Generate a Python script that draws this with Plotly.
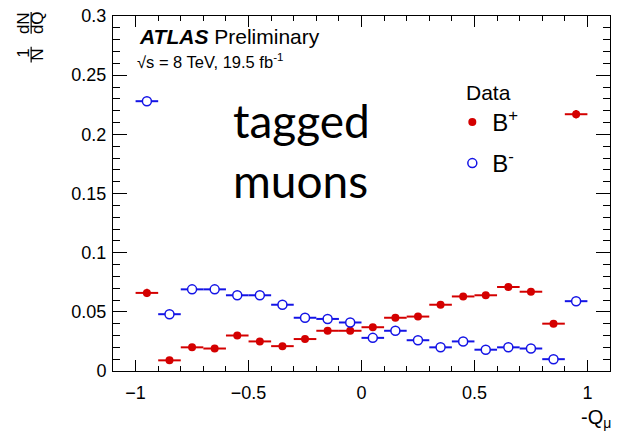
import plotly.graph_objects as go

# ---- data ----
bin_centers = [-0.95, -0.85, -0.75, -0.65, -0.55, -0.45, -0.35, -0.25, -0.15, -0.05,
               0.05, 0.15, 0.25, 0.35, 0.45, 0.55, 0.65, 0.75, 0.85, 0.95]
bin_half_width = [0.05] * 20
bplus = [0.066, 0.009, 0.020, 0.019, 0.030, 0.025, 0.021, 0.027, 0.034, 0.034,
         0.037, 0.045, 0.046, 0.056, 0.063, 0.064, 0.071, 0.067, 0.040, 0.217]
bminus = [0.228, 0.048, 0.069, 0.069, 0.064, 0.064, 0.056, 0.045, 0.044, 0.041,
          0.028, 0.034, 0.026, 0.020, 0.025, 0.018, 0.020, 0.019, 0.010, 0.059]
bplus_err = [0.0035] + [0.0015] * 18 + [0.0035]
bminus_err = [0.0035] + [0.0015] * 18 + [0.0035]
y_ticks = [0, 0.05, 0.1, 0.15, 0.2, 0.25, 0.3]
x_ticks = [-1, -0.5, 0, 0.5, 1]

RED = "#d40000"
BLUE = "#1414e6"

W, H = 617, 436
L, R, T, B = 113, 6, 13, 65
PW, PH = W - L - R, H - T - B


def px(x):
    return (x - L) / PW


def py(y):
    return (H - B - y) / PH


fig = go.Figure()
fig.add_trace(go.Scatter(
    x=bin_centers, y=bplus, mode="markers", name="B<sup>+</sup>", legendgroup="p",
    marker=dict(symbol="circle", size=8, color=RED),
    error_x=dict(type="data", array=bin_half_width, width=0, thickness=2, color=RED),
    error_y=dict(type="data", array=bplus_err, width=0, thickness=2, color=RED),
))
fig.add_trace(go.Scatter(
    x=bin_centers, y=bminus, mode="markers", name="B<sup>-</sup>", legendgroup="m",
    marker=dict(symbol="circle", size=9, color="white", line=dict(color=BLUE, width=1.5)),
    error_x=dict(type="data", array=bin_half_width, width=0, thickness=2, color=BLUE),
    error_y=dict(type="data", array=bminus_err, width=0, thickness=2, color=BLUE),
))

axis_font = dict(family="Liberation Sans, Arial", size=18, color="black")
fig.update_xaxes(
    range=[-1.1, 1.1], tickvals=x_ticks, ticks="inside", ticklen=11, tickwidth=1,
    tickcolor="black", showline=True, linecolor="black", linewidth=1, mirror="allticks",
    showgrid=False, zeroline=False, tickfont=axis_font, ticklabelstandoff=5,
    minor=dict(dtick=0.1, tick0=0, ticks="inside", ticklen=5, tickcolor="black", showgrid=False),
)
fig.update_yaxes(
    range=[0, 0.3], tickvals=y_ticks, ticks="inside", ticklen=14, tickwidth=1,
    tickcolor="black", showline=True, linecolor="black", linewidth=1, mirror="allticks",
    showgrid=False, zeroline=False, tickfont=axis_font, ticklabelstandoff=2,
    minor=dict(dtick=0.01, tick0=0, ticks="inside", ticklen=7, tickcolor="black", showgrid=False),
)

ann = []
ann.append(dict(x=px(137), y=py(34), xref="paper", yref="paper", xanchor="left", yanchor="middle",
                text="<b><i>ATLAS</i></b> Preliminary", showarrow=False,
                font=dict(family="Liberation Sans, Arial", size=21, color="black")))
ann.append(dict(x=px(135), y=py(58), xref="paper", yref="paper", xanchor="left", yanchor="middle",
                text="\u221As = 8 TeV, 19.5 fb<sup>-1</sup>", showarrow=False,
                font=dict(family="Liberation Sans, Arial", size=16.5, color="black")))
ann.append(dict(x=px(231), y=py(149), xref="paper", yref="paper", xanchor="left", yanchor="middle",
                text="tagged<br>muons", showarrow=False, align="left",
                font=dict(family="Lato", size=46, color="black")))
ann.append(dict(x=px(614), y=py(419), xref="paper", yref="paper", xanchor="right", yanchor="middle",
                text="-Q<sub>\u03bc</sub>", showarrow=False,
                font=dict(family="Liberation Sans, Arial", size=20, color="black")))
# y-axis title as two stacked rotated fractions
frac_font = dict(family="Liberation Sans, Arial", size=17, color="black")
for txt, x, y in [("dN", 24, 20), ("dQ", 38, 20), ("1", 24, 51), ("N", 38, 52)]:
    ann.append(dict(x=px(x), y=py(y), xref="paper", yref="paper", xanchor="center", yanchor="middle",
                    text=txt, textangle=-90, showarrow=False, font=frac_font))

shapes = [
    dict(type="line", xref="paper", yref="paper", x0=px(31), x1=px(31), y0=py(9), y1=py(31),
         line=dict(color="black", width=1.2)),
    dict(type="line", xref="paper", yref="paper", x0=px(31), x1=px(31), y0=py(44), y1=py(60),
         line=dict(color="black", width=1.2)),
]

fig.update_layout(
    width=W, height=H, margin=dict(l=L, r=R, t=T, b=B, pad=0),
    paper_bgcolor="white", plot_bgcolor="white",
    annotations=ann, shapes=shapes,
    showlegend=True,
    legend=dict(x=px(453), y=py(70), xanchor="left", yanchor="top",
                title=dict(text="\u00a0\u00a0Data",
                           font=dict(family="Liberation Sans, Arial", size=21, color="black")),
                font=dict(family="Liberation Sans, Arial", size=24, color="black"),
                bgcolor="rgba(0,0,0,0)", itemwidth=30, tracegroupgap=7),
)

fig.write_html("out.html")
